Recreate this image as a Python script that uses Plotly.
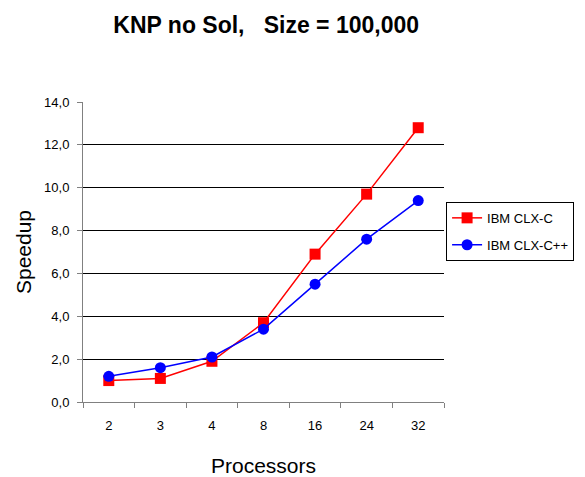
import plotly.graph_objects as go

processors = ["2", "3", "4", "8", "16", "24", "32"]
clx_c = [1.0, 1.1, 1.9, 3.7, 6.9, 9.7, 12.8]
clx_cpp = [1.2, 1.6, 2.1, 3.4, 5.5, 7.6, 9.4]
y_ticks = [0, 2, 4, 6, 8, 10, 12, 14]

fig = go.Figure()
fig.add_trace(go.Scatter(
    x=processors, y=clx_c, name="IBM CLX-C", mode="lines+markers", legendgroup="a",
    line=dict(color="#ff0000", width=1.5),
    marker=dict(symbol="square", size=11, color="#ff0000"),
))
fig.add_trace(go.Scatter(
    x=processors, y=clx_cpp, name="IBM CLX-C++", mode="lines+markers", legendgroup="b",
    line=dict(color="#0000ff", width=1.5),
    marker=dict(symbol="circle", size=11, color="#0000ff"),
))

fig.update_layout(
    width=585, height=477,
    margin=dict(l=83, r=140, t=102, b=75),
    paper_bgcolor="white", plot_bgcolor="white",
    separators=",.",
    font=dict(family="Liberation Sans, Arial, sans-serif", color="black"),
    title=dict(text="<b>KNP no Sol,   Size = 100,000</b>", x=0.455, xanchor="center",
               y=0.948, yanchor="middle", font=dict(size=23), automargin=False),
    showlegend=True,
    legend=dict(x=1.003, y=0.667, xanchor="left", yanchor="top",
                bordercolor="black", borderwidth=1, bgcolor="white",
                font=dict(size=13), tracegroupgap=7),
    xaxis=dict(
        type="category", showgrid=False, showline=True, linecolor="#808080", linewidth=1,
        ticks="outside", ticklen=5, tickcolor="#808080", tickson="boundaries",
        tickfont=dict(size=13), range=[-0.5, 6.5], automargin=False,
        ticklabelstandoff=11,
        title=dict(text="Processors", font=dict(size=21), standoff=28),
    ),
    yaxis=dict(
        range=[0, 14], tickvals=y_ticks, tickformat=".1f",
        showgrid=True, gridcolor="black", gridwidth=1,
        showline=True, linecolor="#808080", linewidth=1,
        ticks="outside", ticklen=5, tickcolor="#808080",
        tickfont=dict(size=13), zeroline=False, automargin=False,
        ticklabelstandoff=5,
        title=dict(text="Speedup", font=dict(size=21), standoff=6),
    ),
)

fig.write_html("out.html", config={"displayModeBar": False},
               post_script="document.body.style.margin='0';")
